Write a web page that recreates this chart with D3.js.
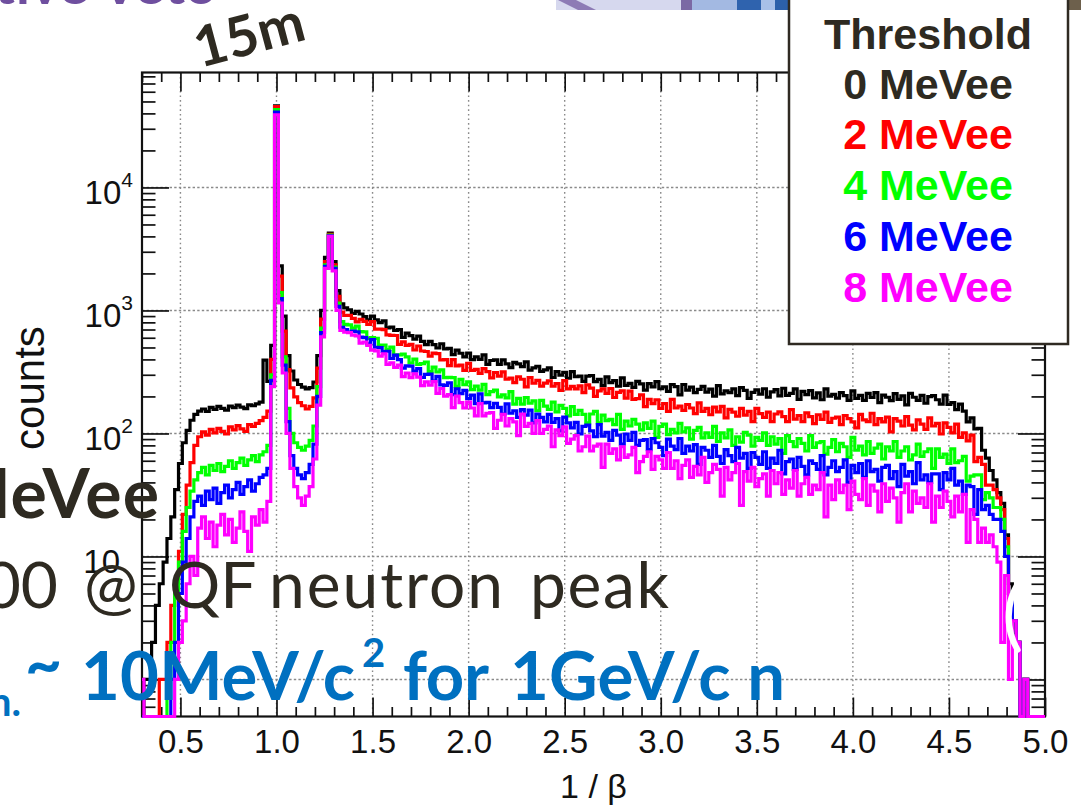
<!DOCTYPE html>
<html lang="en">
<head>
<meta charset="utf-8">
<title>1/β spectra by threshold</title>
<script src="https://cdn.jsdelivr.net/npm/d3@7/dist/d3.min.js"></script>
<style>
  html, body { margin: 0; padding: 0; background: #fff; overflow: hidden; }
  svg { display: block; }
</style>
</head>
<body>
<svg id="chart" width="1081" height="812" viewBox="0 0 1081 812"></svg>
<script>
// ---------------------------------------------------------------------------
// Histogram binning: 236 bins of width 0.02, centred on 0.30, 0.32, ... 5.00
// ---------------------------------------------------------------------------
const BIN_FIRST_EDGE = 0.29;
const BIN_WIDTH = 0.02;

const thresholdTitle = "Threshold";
const thresholdLabels = ["0 MeVee", "2 MeVee", "4 MeVee", "6 MeVee", "8 MeVee"];
const thresholdColors = ["#000000", "#ff0000", "#00ff00", "#0000ff", "#ff00ff"];

const counts0MeVee = [
  0, 1, 1, 2, 4, 6, 9, 14, 21, 35,                              // 0.30-0.48
  57, 84, 106, 128, 143, 152, 158, 151, 163, 157,               // 0.50-0.68
  166, 160, 155, 167, 162, 170, 164, 159, 171, 168,             // 0.70-0.88
  174, 180, 395, 265, 520, 46000, 2300, 900, 430, 322,          // 0.90-1.08
  272, 250, 238, 230, 236, 262, 430, 1000, 2700, 4250,          // 1.10-1.28
  2500, 1450, 1130, 1050,                                       // 1.30-1.36
  1013, 946, 983, 936, 890, 837, 900, 838, 796, 823,            // 1.38-1.56
  723, 733, 690, 698, 604, 653, 625, 585, 619, 560,             // 1.58-1.76
  527, 561, 528, 495, 536, 488, 491, 437, 475, 449,             // 1.78-1.96
  419, 451, 398, 420, 400, 436, 365, 392, 397, 364,             // 1.98-2.16
  397, 368, 343, 378, 368, 349, 382, 327, 341, 352,             // 2.18-2.36
  320, 329, 341, 285, 319, 298, 314, 281, 318, 289,             // 2.38-2.56
  293, 265, 292, 296, 264, 275, 245, 288, 259, 269,             // 2.58-2.76
  242, 283, 246, 255, 237, 265, 253, 225, 254, 239,             // 2.78-2.96
  264, 231, 239, 220, 250, 240, 206, 250, 225, 238,             // 2.98-3.16
  215, 228, 241, 217, 229, 201, 245, 210, 222, 215,             // 3.18-3.36
  230, 203, 236, 224, 193, 216, 226, 209, 231, 197,             // 3.38-3.56
  218, 227, 202, 233, 204, 212, 230, 189, 220, 207,             // 3.58-3.76
  223, 195, 214, 188, 230, 201, 208, 194, 215, 203,             // 3.78-3.96
  186, 222, 193, 204, 186, 212, 196, 215, 178, 205,             // 3.98-4.16
  197, 185, 211, 189, 202, 171, 212, 197, 186, 204,             // 4.18-4.36
  176, 199, 203, 188, 173, 205, 172, 178, 156, 173,             // 4.38-4.56
  152, 124, 134, 109, 110, 73, 63,                              // 4.58-4.70
  50, 42, 33, 27, 15, 6, 3, 2, 0, 1, 0, 0, 0, 0, 0              // 4.72-5.00
];

const counts2MeVee = [
  0, 0, 0, 0, 0, 1, 1, 2, 4, 6,
  11, 22, 38, 58, 80, 94, 103, 97, 108, 101,
  110, 104, 99, 113, 107, 116, 109, 104, 118, 114,
  121, 127, 135, 152, 400, 45500, 1900, 680, 330, 235,
  198, 178, 168, 158, 166, 195, 340, 850, 2500, 4150,
  2350, 1300, 970, 910,
  913, 861, 807, 845, 814, 771, 810, 705, 705, 698,
  633, 627, 626, 529, 555, 519, 530, 477, 514, 468,
  464, 426, 450, 445, 396, 399, 356, 398, 355, 359,
  326, 371, 325, 332, 308, 337, 318, 283, 313, 293,
  317, 276, 282, 259, 289, 276, 239, 285, 256, 270,
  243, 257, 268, 242, 254, 224, 269, 230, 241, 230,
  244, 215, 248, 234, 200, 222, 230, 212, 232, 196,
  216, 222, 194, 221, 189, 192, 206, 165, 189, 175,
  188, 160, 175, 151, 189, 161, 167, 154, 172, 161,
  145, 177, 151, 160, 142, 164, 150, 166, 134, 157,
  149, 138, 160, 141, 151, 125, 160, 145, 135, 149,
  125, 144, 150, 137, 125, 156, 131, 140, 125, 147,
  137, 120, 142, 130, 149, 123, 133, 136, 118, 140,
  132, 124, 111, 143, 129, 125, 146, 118, 132, 124,
  136, 103, 132, 126, 115, 137, 117, 107, 129, 119,
  108, 134, 115, 121, 99, 122, 112, 101, 119, 93,
  101, 87, 97, 59, 64, 56, 38,
  38, 35, 30, 24, 14, 5, 3, 2, 0, 1, 0, 0, 0, 0, 0
];

const counts4MeVee = [
  0, 0, 0, 0, 0, 0, 0, 1, 2, 5,
  9, 16, 25, 34, 42, 48, 53, 46, 55, 50,
  57, 49, 54, 60, 52, 58, 63, 55, 61, 66,
  59, 67, 71, 80, 300, 43000, 1400, 420, 160, 100,
  84, 77, 73, 79, 88, 115, 240, 720, 2350, 4100,
  2250, 1150, 810, 770,
  763, 719, 747, 672, 670, 593, 602, 594, 522, 523,
  481, 504, 434, 436, 442, 419, 374, 402, 365, 370,
  381, 319, 346, 316, 329, 284, 286, 284, 241, 275,
  249, 263, 227, 243, 225, 251, 207, 219, 225, 198,
  206, 195, 219, 173, 193, 173, 196, 176, 184, 153,
  186, 167, 157, 180, 150, 169, 160, 139, 165, 143,
  154, 143, 122, 144, 151, 122, 141, 127, 130, 118,
  143, 108, 126, 115, 130, 119, 107, 122, 110, 126,
  93, 114, 119, 98, 108, 101, 121, 103, 111, 90,
  106, 112, 92, 101, 93, 114, 86, 101, 92, 107,
  80, 94, 85, 102, 97, 79, 93, 88, 101, 80,
  94, 82, 91, 69, 96, 86, 78, 91, 83, 72,
  96, 77, 84, 86, 68, 77, 89, 71, 83, 78,
  64, 93, 73, 79, 67, 86, 69, 76, 82, 62,
  78, 72, 86, 64, 72, 78, 61, 67, 82, 65,
  71, 75, 52, 75, 64, 68, 57, 75, 58, 60,
  65, 41, 45, 46, 46, 29, 33,
  30, 25, 25, 20, 12, 5, 3, 2, 0, 1, 0, 0, 0, 0, 0
];

const counts6MeVee = [
  0, 0, 0, 0, 0, 0, 0, 0, 1, 2,
  5, 9, 14, 21, 28, 31, 26, 34, 29, 36,
  27, 33, 38, 30, 35, 40, 32, 37, 42, 34,
  39, 44, 46, 52, 270, 41000, 1250, 360, 125, 66,
  52, 46, 43, 48, 56, 82, 200, 660, 2280, 4050,
  2200, 1080, 730, 700,
  666, 678, 671, 606, 602, 534, 580, 502, 498, 464,
  466, 407, 434, 399, 340, 354, 353, 321, 337, 285,
  302, 304, 266, 291, 248, 246, 258, 207, 231, 211,
  224, 192, 205, 175, 210, 177, 179, 162, 176, 163,
  144, 174, 146, 153, 135, 156, 141, 155, 122, 144,
  135, 124, 143, 123, 132, 105, 136, 122, 111, 123,
  99, 114, 117, 105, 94, 118, 95, 102, 88, 106,
  97, 82, 99, 88, 102, 80, 88, 89, 74, 91,
  84, 77, 66, 90, 79, 74, 91, 69, 79, 72,
  81, 56, 77, 73, 64, 80, 65, 57, 74, 66,
  59, 77, 63, 69, 52, 70, 64, 56, 71, 52,
  63, 57, 73, 47, 59, 62, 51, 64, 54, 46,
  60, 57, 51, 66, 46, 53, 60, 49, 53, 61,
  40, 55, 48, 57, 44, 60, 49, 51, 41, 53,
  55, 43, 49, 37, 56, 45, 49, 39, 58, 42,
  46, 40, 47, 47, 35, 48, 42, 52, 38, 41,
  32, 38, 37, 22, 35, 24, 26,
  22, 20, 20, 16, 10, 5, 3, 2, 0, 1, 0, 0, 0, 0, 0
];

const counts8MeVee = [
  1, 0, 0, 0, 0, 0, 0, 0, 0, 1,
  2, 3, 6, 10, 7, 17, 21, 14, 19, 12,
  18, 22, 15, 20, 13, 17, 23, 16, 11, 21,
  18, 24, 19, 28, 240, 39000, 1150, 310, 100, 52,
  37, 30, 26, 31, 37, 62, 170, 610, 2200, 4000,
  2100, 1000, 690, 665,
  660, 629, 620, 542, 554, 520, 476, 469, 426, 444,
  364, 375, 344, 360, 290, 310, 284, 305, 287, 245,
  263, 247, 264, 212, 232, 201, 207, 162, 201, 178,
  161, 180, 161, 139, 175, 139, 146, 148, 110, 128,
  143, 115, 132, 124, 96, 144, 114, 121, 100, 127,
  100, 108, 115, 78, 107, 96, 113, 83, 90, 96,
  72, 78, 95, 72, 79, 82, 53, 82, 69, 75,
  61, 78, 64, 67, 77, 48, 59, 65, 71, 51,
  65, 61, 52, 70, 52, 60, 43, 55, 61, 44,
  54, 46, 64, 40, 48, 56, 51, 31, 53, 42,
  48, 57, 26, 49, 41, 53, 37, 43, 47, 31,
  50, 39, 48, 32, 42, 36, 50, 31, 39, 44,
  32, 38, 35, 48, 21, 38, 29, 42, 33, 38,
  24, 41, 32, 29, 43, 26, 38, 34, 23, 39,
  28, 36, 30, 19, 33, 39, 23, 34, 27, 30,
  25, 39, 19, 31, 25, 34, 28, 21, 31, 23,
  32, 13, 24, 20, 13, 17, 13,
  15, 12, 9, 2, 7, 1, 3, 2, 0, 1, 0, 0, 0, 0, 0
];

const seriesCounts = [counts0MeVee, counts2MeVee, counts4MeVee, counts6MeVee, counts8MeVee];

// axis ranges and labels
const X_MIN = 0.3, X_MAX = 5.0;
const Y_MIN = 0.5, Y_MAX = 86000;
const xTickValues = [0.5, 1.0, 1.5, 2.0, 2.5, 3.0, 3.5, 4.0, 4.5, 5.0];
const xTickLabels = ["0.5", "1.0", "1.5", "2.0", "2.5", "3.0", "3.5", "4.0", "4.5", "5.0"];
const xGridValues = [0.5, 1.0, 1.5, 2.0, 2.5, 3.0, 3.5, 4.0, 4.5];
const yGridValues = [1, 10, 100, 1000, 10000];
const yTickValues = [10, 100, 1000, 10000];
const yTickMantissa = ["10", "10", "10", "10"];
const yTickExponent = ["", "2", "3", "4"];
const xAxisTitle = "1 / β";
const yAxisTitle = "counts";

// ---------------------------------------------------------------------------
const svg = d3.select("#chart");
const plot = { left: 142, right: 1045, top: 72.5, bottom: 716.5 };

const x = d3.scaleLinear().domain([X_MIN, X_MAX]).range([plot.left, plot.right]);
const y = d3.scaleLog().domain([Y_MIN, Y_MAX]).range([plot.bottom, plot.top]);

svg.append("rect").attr("width", 1081).attr("height", 812).attr("fill", "#fff");

const ROOT_FONT = "'Liberation Sans', Arial, Helvetica, sans-serif";
const SLIDE_FONT = "Lato, 'Open Sans', sans-serif";

// dotted grid
const grid = svg.append("g").attr("stroke", "#8a8a8a").attr("stroke-width", 1.4).attr("fill", "none");
grid.selectAll("line.gx").data(xGridValues).join("line")
  .attr("x1", d => x(d)).attr("x2", d => x(d))
  .attr("y1", plot.top).attr("y2", plot.bottom)
  .attr("stroke-dasharray", "1.6,3");
grid.selectAll("line.gy").data(yGridValues).join("line")
  .attr("x1", plot.left).attr("x2", plot.right)
  .attr("y1", d => y(d)).attr("y2", d => y(d))
  .attr("stroke-dasharray", "2.4,2.2");

// tick positions
const xMinor = d3.range(3, 51).map(i => i / 10).filter(v => xTickValues.indexOf(v) < 0);
const yMinor = [];
for (let e = -1; e <= 4; e++) for (let m = 2; m <= 9; m++) {
  const v = m * Math.pow(10, e);
  if (v >= Y_MIN && v <= Y_MAX) yMinor.push(v);
}
const yMajor = [1, 10, 100, 1000, 10000];

function styleAxis(g) {
  g.select(".domain").remove();
  g.selectAll(".tick line").attr("stroke", "#111").attr("stroke-width", 1.7);
}

const axes = svg.append("g");
// bottom & top (ticks pointing into the frame)
axes.append("g").attr("transform", `translate(0,${plot.bottom})`)
  .call(d3.axisBottom(x).tickValues(xMinor).tickSize(-9.5).tickSizeOuter(0).tickFormat(""))
  .call(styleAxis);
const xLab = axes.append("g").attr("transform", `translate(0,${plot.bottom})`)
  .call(d3.axisBottom(x).tickValues(xTickValues).tickSize(-19).tickSizeOuter(0).tickPadding(13.5)
    .tickFormat((d, i) => xTickLabels[i]))
  .call(styleAxis);
xLab.selectAll("text").attr("font-family", ROOT_FONT).attr("font-size", 33).attr("fill", "#111");
axes.append("g").attr("transform", `translate(0,${plot.top})`)
  .call(d3.axisTop(x).tickValues(xMinor).tickSize(-9.5).tickSizeOuter(0).tickFormat(""))
  .call(styleAxis);
axes.append("g").attr("transform", `translate(0,${plot.top})`)
  .call(d3.axisTop(x).tickValues(xTickValues).tickSize(-19).tickSizeOuter(0).tickFormat(""))
  .call(styleAxis);
// left & right
axes.append("g").attr("transform", `translate(${plot.left},0)`)
  .call(d3.axisLeft(y).tickValues(yMinor).tickSize(-13.5).tickSizeOuter(0).tickFormat(""))
  .call(styleAxis);
axes.append("g").attr("transform", `translate(${plot.left},0)`)
  .call(d3.axisLeft(y).tickValues(yMajor).tickSize(-27).tickSizeOuter(0).tickFormat(""))
  .call(styleAxis);
axes.append("g").attr("transform", `translate(${plot.right},0)`)
  .call(d3.axisRight(y).tickValues(yMinor).tickSize(-13.5).tickSizeOuter(0).tickFormat(""))
  .call(styleAxis);
axes.append("g").attr("transform", `translate(${plot.right},0)`)
  .call(d3.axisRight(y).tickValues(yMajor).tickSize(-27).tickSizeOuter(0).tickFormat(""))
  .call(styleAxis);

// frame
svg.append("rect")
  .attr("x", plot.left).attr("y", plot.top)
  .attr("width", plot.right - plot.left).attr("height", plot.bottom - plot.top)
  .attr("fill", "none").attr("stroke", "#111").attr("stroke-width", 2.2);

// y tick labels (10, 10², 10³, 10⁴)
const yLab = svg.append("g").attr("font-family", ROOT_FONT).attr("fill", "#111");
yTickValues.forEach((v, i) => {
  const t = yLab.append("text")
    .attr("x", yTickExponent[i] ? 133 : 120)
    .attr("y", y(v) + 17)
    .attr("text-anchor", "end")
    .attr("font-size", 33)
    .text(yTickMantissa[i]);
  if (yTickExponent[i]) {
    t.append("tspan").attr("dy", -17).attr("font-size", 21).text(yTickExponent[i]);
  }
});

// axis titles
svg.append("text")
  .attr("x", (plot.left + plot.right) / 2).attr("y", 798)
  .attr("text-anchor", "middle")
  .attr("font-family", ROOT_FONT).attr("font-size", 34).attr("fill", "#111")
  .text(xAxisTitle);
svg.append("text")
  .attr("transform", "translate(44,388) rotate(-90)")
  .attr("text-anchor", "middle")
  .attr("font-family", ROOT_FONT).attr("font-size", 42).attr("fill", "#111")
  .text(yAxisTitle);

// histograms (drawn as steps, clipped to the frame)
svg.append("defs").append("clipPath").attr("id", "plotClip")
  .append("rect")
  .attr("x", plot.left).attr("y", plot.top - 2)
  .attr("width", plot.right - plot.left).attr("height", plot.bottom - plot.top + 4);

function stepPoints(values) {
  const pts = [];
  values.forEach((v, i) => {
    const lo = BIN_FIRST_EDGE + i * BIN_WIDTH;
    const c = Math.max(v, Y_MIN);
    pts.push([lo, c], [lo + BIN_WIDTH, c]);
  });
  return pts;
}
const stepLine = d3.line().x(d => x(d[0])).y(d => y(d[1]));

svg.append("g").attr("clip-path", "url(#plotClip)")
  .selectAll("path").data(seriesCounts).join("path")
  .attr("d", d => stepLine(stepPoints(d)))
  .attr("fill", "none")
  .attr("stroke", (d, i) => thresholdColors[i])
  .attr("stroke-width", 3.2)
  .attr("stroke-linejoin", "miter")
  .attr("stroke-miterlimit", 2);

// header band along the top edge
const band = svg.append("g");
band.append("rect").attr("x", 556).attr("y", 0).attr("width", 233).attr("height", 10).attr("fill", "#d6d8ee");
band.append("polygon").attr("points", "558,0 576,0 596,10 578,10").attr("fill", "#8d7bb5");
band.append("rect").attr("x", 681).attr("y", 0).attr("width", 11).attr("height", 10).attr("fill", "#7b69a4");
band.append("rect").attr("x", 692).attr("y", 0).attr("width", 45).attr("height", 10).attr("fill", "#a3b9e2");
band.append("rect").attr("x", 737).attr("y", 0).attr("width", 24).attr("height", 10).attr("fill", "#2f63ae");
band.append("rect").attr("x", 761).attr("y", 0).attr("width", 14).attr("height", 10).attr("fill", "#a8c0e8");
band.append("rect").attr("x", 775).attr("y", 0).attr("width", 14).attr("height", 10).attr("fill", "#2c60aa");
band.append("rect").attr("x", 1068).attr("y", 0).attr("width", 13).attr("height", 10).attr("fill", "#6d604c");

// slide heading, mostly above the visible area
svg.append("text")
  .attr("x", 217).attr("y", 4)
  .attr("text-anchor", "end")
  .attr("font-family", SLIDE_FONT).attr("font-weight", 700).attr("font-size", 56)
  .attr("fill", "#6f4f9f")
  .text("Active Veto");

// legend
const legend = svg.append("g");
legend.append("rect")
  .attr("x", 789).attr("y", -4).attr("width", 279).attr("height", 348)
  .attr("fill", "#fff").attr("stroke", "#2f2a22").attr("stroke-width", 2.5);
const legendBaselines = [48.5, 98.5, 148.5, 200, 250.5, 301.5];
legend.append("text")
  .attr("x", 928).attr("y", legendBaselines[0])
  .attr("text-anchor", "middle")
  .attr("font-family", ROOT_FONT).attr("font-weight", 700).attr("font-size", 43)
  .attr("fill", "#2e2a21")
  .text(thresholdTitle);
thresholdLabels.forEach((lab, i) => {
  legend.append("text")
    .attr("x", 928).attr("y", legendBaselines[i + 1])
    .attr("text-anchor", "middle")
    .attr("font-family", ROOT_FONT).attr("font-weight", 700).attr("font-size", 43)
    .attr("fill", i === 0 ? "#2e2a21" : thresholdColors[i])
    .text(lab);
});

// "15m" tag
svg.append("text")
  .attr("transform", "translate(200,68) rotate(-15)")
  .attr("font-family", SLIDE_FONT).attr("font-weight", 700).attr("font-size", 56)
  .attr("fill", "#2e2a21")
  .text("15m");

// slide text lines laid over the plot
const slide = svg.append("g").attr("font-family", SLIDE_FONT);
const dark = "#2e2a21";
slide.append("text")
  .attr("x", 160).attr("y", 518).attr("text-anchor", "end")
  .attr("font-weight", 700).attr("font-size", 68).attr("letter-spacing", 1)
  .attr("fill", dark)
  .text("2 MeVee");

const qfParts = [
  { t: "100", x: 58, anchor: "end", len: null },
  { t: "@", x: 84, anchor: "start", len: null },
  { t: "QF", x: 169, anchor: "start", len: null },
  { t: "neutron", x: 269, anchor: "start", len: 234 },
  { t: "peak", x: 530, anchor: "start", len: 139 }
];
qfParts.forEach(p => {
  const t = slide.append("text")
    .attr("x", p.x).attr("y", 608).attr("text-anchor", p.anchor)
    .attr("font-weight", 400).attr("font-size", 64).attr("fill", dark)
    .text(p.t);
  if (p.len) t.attr("textLength", p.len).attr("lengthAdjust", "spacing");
});

const blue = "#0070c0";
slide.append("text")
  .attr("x", 21).attr("y", 716).attr("text-anchor", "end")
  .attr("font-weight", 700).attr("font-size", 40).attr("fill", blue)
  .text("m.");
slide.append("text")
  .attr("x", 25).attr("y", 686)
  .attr("font-weight", 700).attr("font-size", 64).attr("fill", blue)
  .text("~");
const blueParts = [
  { t: "10MeV/c", x: 81, y: 700, size: 67, len: 274 },
  { t: "2", x: 362, y: 667, size: 40, len: null },
  { t: "for", x: 403, y: 700, size: 67, len: 86 },
  { t: "1GeV/c n", x: 510, y: 700, size: 67, len: 275 }
];
blueParts.forEach(p => {
  const t = slide.append("text")
    .attr("x", p.x).attr("y", p.y)
    .attr("font-weight", 700).attr("font-size", p.size).attr("fill", blue)
    .text(p.t);
  if (p.len) t.attr("textLength", p.len).attr("lengthAdjust", "spacing");
});

// white bracket from the slide layer crossing the right-hand tail
slide.append("text")
  .attr("x", 1002).attr("y", 642)
  .attr("font-weight", 400).attr("font-size", 80).attr("fill", "#ffffff")
  .text("(");
</script>
</body>
</html>
